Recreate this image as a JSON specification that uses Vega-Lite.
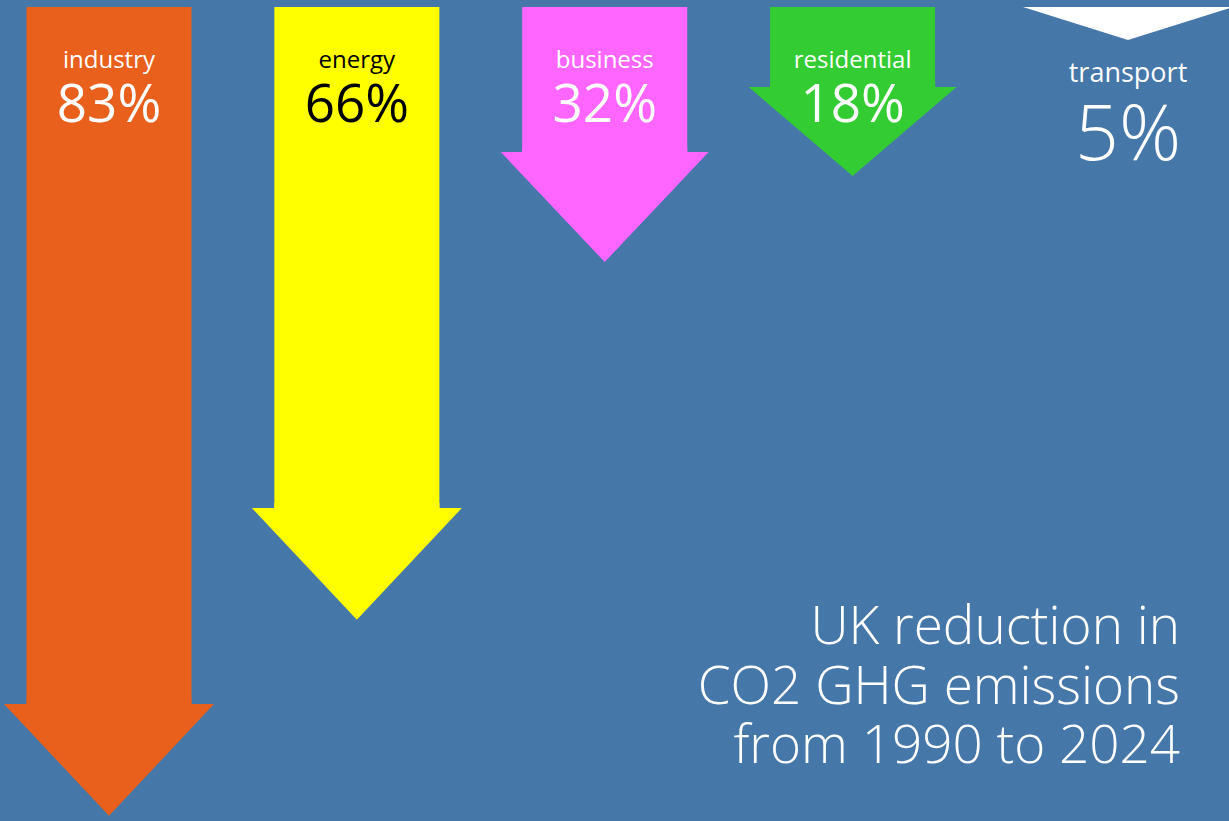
{
  "$schema": "https://vega.github.io/schema/vega-lite/v6.json",
  "width": 1229,
  "height": 821,
  "autosize": {"type": "none"},
  "padding": 0,
  "background": "#4577a9",
  "config": {"view": {"stroke": null}, "font": "Open Sans"},
  "title": {
    "text": ["UK reduction in", "CO2 GHG emissions", "from 1990 to 2024"],
    "orient": "top",
    "anchor": "end",
    "align": "right",
    "frame": "group",
    "font": "Open Sans",
    "fontSize": 53,
    "fontWeight": 300,
    "color": "white",
    "lineHeight": 59.5,
    "offset": -774,
    "dx": -49
  },
  "data": {
    "values": [
      {"sector": "industry", "value": 0.83},
      {"sector": "energy", "value": 0.66},
      {"sector": "business", "value": 0.32},
      {"sector": "residential", "value": 0.18},
      {"sector": "transport", "value": 0.05}
    ]
  },
  "encoding": {
    "x": {
      "field": "sector",
      "type": "nominal",
      "scale": {
        "type": "point",
        "domain": ["industry", "_1", "_2", "_3", "_4", "_5", "_6", "_7", "_8", "energy", "_9", "_10", "_11", "_12", "_13", "_14", "_15", "_16", "business", "_17", "_18", "_19", "_20", "_21", "_22", "_23", "_24", "residential", "_25", "_26", "_27", "_28", "_29", "_30", "_31", "_32", "_33", "transport"],
        "range": [109, 1128],
        "padding": 0
      },
      "axis": null
    }
  },
  "layer": [
    {
      "mark": {"type": "bar", "width": 165},
      "encoding": {
        "y": {
          "field": "value",
          "type": "quantitative",
          "stack": null,
          "scale": {"domain": [0, 0.05, 0.18, 0.32, 0.66, 0.83], "range": [7, 7, 87, 152, 508, 704], "nice": false, "zero": false},
          "axis": null
        },
        "color": {
          "field": "sector",
          "type": "nominal",
          "scale": {"domain": ["industry", "energy", "business", "residential", "transport"], "range": ["#e8601c", "#ffff00", "#ff66ff", "#33cc33", "#ffffff"]},
          "legend": null
        }
      }
    },
    {
      "mark": {"type": "point", "filled": true, "opacity": 1, "size": 44100, "strokeWidth": 0},
      "encoding": {
        "y": {"field": "value", "type": "quantitative", "stack": null},
        "color": {"field": "sector", "type": "nominal", "legend": null},
        "shape": {
          "field": "sector",
          "type": "nominal",
          "scale": {
            "domain": ["industry", "energy", "business", "residential", "transport"],
            "range": [
              "M-0.786,-0.05L0.786,-0.05L0.786,0L1,0L0,1.065L-1,0L-0.786,0Z",
              "M-0.786,-0.05L0.786,-0.05L0.786,0L1,0L0,1.065L-1,0L-0.786,0Z",
              "M-0.786,-0.05L0.786,-0.05L0.786,0L0.99,0L0,1.048L-0.99,0L-0.786,0Z",
              "M-0.786,-0.05L0.786,-0.05L0.786,0L0.99,0L0,0.848L-0.99,0L-0.786,0Z",
              "M-1,0L1,0L0,0.314Z"
            ]
          },
          "legend": null
        }
      }
    },
    {
      "transform": [{"filter": "datum.sector !== 'transport'"}],
      "mark": {"type": "text", "align": "center", "baseline": "alphabetic", "fontSize": 24, "fontWeight": 400, "dy": 61},
      "encoding": {
        "y": {"datum": 0, "type": "quantitative"},
        "text": {"field": "sector", "type": "nominal"},
        "color": {"condition": {"test": "datum.sector === 'energy'", "value": "black"}, "value": "white"}
      }
    },
    {
      "transform": [{"filter": "datum.sector !== 'transport'"}],
      "mark": {"type": "text", "align": "center", "baseline": "alphabetic", "fontSize": 53, "fontWeight": 400, "dy": 115},
      "encoding": {
        "y": {"datum": 0, "type": "quantitative"},
        "text": {"field": "value", "type": "quantitative", "format": ".0%"},
        "color": {"condition": {"test": "datum.sector === 'energy'", "value": "black"}, "value": "white"}
      }
    },
    {
      "transform": [{"filter": "datum.sector === 'transport'"}],
      "mark": {"type": "text", "align": "center", "baseline": "alphabetic", "fontSize": 27, "fontWeight": 400, "dy": 75, "color": "white"},
      "encoding": {
        "y": {"datum": 0, "type": "quantitative"},
        "text": {"field": "sector", "type": "nominal"}
      }
    },
    {
      "transform": [{"filter": "datum.sector === 'transport'"}],
      "mark": {"type": "text", "align": "center", "baseline": "alphabetic", "fontSize": 77, "fontWeight": 300, "dy": 153, "color": "white"},
      "encoding": {
        "y": {"datum": 0, "type": "quantitative"},
        "text": {"field": "value", "type": "quantitative", "format": ".0%"}
      }
    }
  ]
}
